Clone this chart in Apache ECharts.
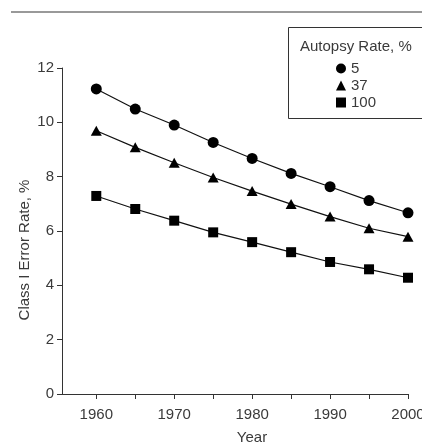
<!DOCTYPE html>
<html>
<head>
<meta charset="utf-8">
<script src="https://cdn.jsdelivr.net/npm/echarts@6/dist/echarts.min.js"></script>
<style>
html,body{margin:0;padding:0;background:#fff;}
#chart{width:422px;height:443px;}
</style>
</head>
<body>
<div id="chart"></div>
<script>
var years = [1960, 1965, 1970, 1975, 1980, 1985, 1990, 1995, 2000];
var rate5 = [11.23, 10.49, 9.90, 9.26, 8.67, 8.12, 7.63, 7.12, 6.67];
var rate37 = [9.69, 9.08, 8.51, 7.97, 7.47, 6.99, 6.53, 6.10, 5.79];
var rate100 = [7.29, 6.81, 6.38, 5.95, 5.59, 5.22, 4.86, 4.59, 4.28];
var seriesNames = ['5', '37', '100'];
var seriesSymbols = ['circle', 'triangle', 'rect'];
var xTicks = [1960, 1965, 1970, 1975, 1980, 1985, 1990, 1995, 2000];
var xLabels = [1960, 1970, 1980, 1990, 2000];
var legendTitle = 'Autopsy Rate, %';
var xName = 'Year';
var yName = 'Class I Error Rate, %';

var FONT = '"Liberation Sans", Arial, sans-serif';
var TXT = '#3a3a3a';
var FS = 15;
var chart = echarts.init(document.getElementById('chart'), null, {renderer: 'canvas'});

function pairs(vals) { return years.map(function (y, i) { return [y, vals[i]]; }); }
var allVals = [rate5, rate37, rate100];
var sizes = [[11, 11], [11, 10], [10, 10]];
function ts(extra) {
  var o = {fontFamily: FONT, fontWeight: 'normal', fontSize: FS, color: TXT};
  for (var k in extra) o[k] = extra[k];
  return o;
}

var option = {
  animation: false,
  backgroundColor: '#fff',
  textStyle: {fontFamily: FONT, color: TXT},
  grid: {left: 62, right: 14, top: 68, bottom: 49, containLabel: false, outerBoundsMode: 'none'},
  title: {
    text: legendTitle, left: 300, top: 39, padding: 0,
    textStyle: ts({})
  },
  legend: {
    orient: 'vertical', left: 336, top: 61, padding: 0,
    itemWidth: 10, itemHeight: 10, itemGap: 2,
    textStyle: ts({padding: [0, 0, 0, 0]}),
    data: seriesNames.map(function (n, i) { return {name: n, icon: seriesSymbols[i]}; })
  },
  xAxis: {
    type: 'value', min: 1955.6, max: 2000,
    name: xName, nameLocation: 'middle', nameGap: 36,
    nameTextStyle: ts({padding: [0, 0, 0, 34]}),
    axisLine: {show: true, onZero: false, lineStyle: {color: '#333', width: 1}},
    axisTick: {show: true, length: 5, customValues: xTicks, lineStyle: {color: '#333'}},
    axisLabel: {customValues: xLabels, margin: 13, fontFamily: FONT, fontSize: FS, color: TXT,
      formatter: function (v) { return String(v); }},
    splitLine: {show: false}
  },
  yAxis: {
    type: 'value', min: 0, max: 12, interval: 2,
    axisLine: {show: true, lineStyle: {color: '#333', width: 1}},
    axisTick: {show: true, length: 5, lineStyle: {color: '#333'}},
    axisLabel: {margin: 8, fontFamily: FONT, fontSize: FS, color: TXT},
    splitLine: {show: false}
  },
  graphic: [
    {type: 'line', shape: {x1: 11, y1: 12, x2: 422, y2: 12}, style: {stroke: '#777', lineWidth: 1.5}},
    {type: 'rect', shape: {x: 288.5, y: 27.5, width: 200, height: 91}, style: {fill: 'none', stroke: '#333', lineWidth: 1}},
    {type: 'text', x: 25, y: 250, rotation: Math.PI / 2,
      style: {text: yName, fontFamily: FONT, fontSize: FS, fill: TXT, align: 'center', verticalAlign: 'middle'}}
  ],
  series: seriesNames.map(function (n, i) {
    return {
      name: n, type: 'line', data: pairs(allVals[i]),
      symbol: seriesSymbols[i], symbolSize: sizes[i], showSymbol: true,
      lineStyle: {color: '#111', width: 1.2},
      itemStyle: {color: '#000', borderWidth: 0},
      emphasis: {disabled: true}
    };
  })
};
chart.setOption(option);
</script>
</body>
</html>
